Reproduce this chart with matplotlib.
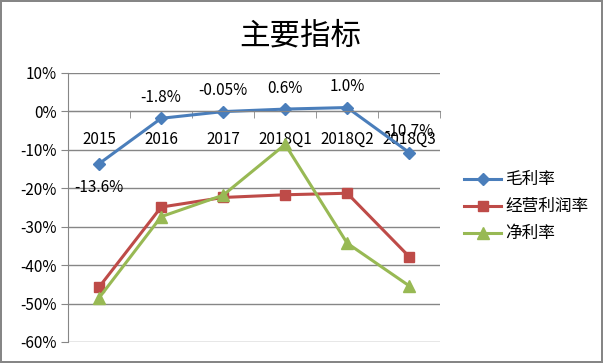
import matplotlib
matplotlib.use('Agg')
import matplotlib.pyplot as plt
from matplotlib.ticker import FuncFormatter, FixedLocator

plt.rcParams['font.family'] = ['Noto Sans CJK SC', 'DejaVu Sans']
plt.rcParams['axes.unicode_minus'] = False

categories = ['2015', '2016', '2017', '2018Q1', '2018Q2', '2018Q3']
gross_margin = [-13.6, -1.8, -0.05, 0.6, 1.0, -10.7]
operating_margin = [-45.7, -24.9, -22.4, -21.7, -21.3, -37.8]
net_margin = [-48.5, -27.4, -21.8, -8.6, -34.3, -45.4]
gross_labels = ['-13.6%', '-1.8%', '-0.05%', '0.6%', '1.0%', '-10.7%']
series_names = ['毛利率', '经营利润率', '净利率']

fig = plt.figure(figsize=(6.03, 3.63), dpi=100)
fig.patch.set_edgecolor('#868686')
fig.patch.set_linewidth(1.5)
ax = fig.add_axes([0.113, 0.058, 0.617, 0.741])

x = list(range(len(categories)))
ax.plot(x, gross_margin, color='#4A7EBB', lw=2.2, marker='D', ms=6.5, label=series_names[0])
ax.plot(x, operating_margin, color='#BE4B48', lw=2.2, marker='s', ms=7.5, label=series_names[1])
ax.plot(x, net_margin, color='#98B954', lw=2.2, marker='^', ms=8, label=series_names[2])

# data labels for gross margin
for i, (v, t) in enumerate(zip(gross_margin, gross_labels)):
    if i == 0:
        ax.annotate(t, (i, v), xytext=(0, -17), textcoords='offset points',
                    ha='center', va='center', fontsize=11)
    else:
        ax.annotate(t, (i, v), xytext=(0, 15), textcoords='offset points',
                    ha='center', va='center', fontsize=11)

ax.set_xlim(-0.5, len(categories) - 0.5)
ax.set_ylim(-60, 10)
ax.set_yticks(range(-60, 11, 10))
ax.yaxis.set_major_formatter(FuncFormatter(lambda v, p: f'{v:.0f}%'))
ax.set_xticks(x)
ax.set_xticklabels(categories)
ax.xaxis.set_minor_locator(FixedLocator([i + 0.5 for i in range(-1, len(categories))]))
ax.tick_params(axis='x', which='major', length=0, pad=14, labelsize=11)
ax.tick_params(axis='x', which='minor', length=5, color='#868686', direction='out')
ax.tick_params(axis='y', length=5, color='#868686', labelsize=11, pad=3)

ax.grid(axis='y', color='#868686', lw=1)
ax.set_axisbelow(True)
ax.spines['bottom'].set_position(('data', 0))
for s in ['top', 'right']:
    ax.spines[s].set_visible(False)
for s in ['left', 'bottom']:
    ax.spines[s].set_color('#868686')

fig.text(0.498, 0.9, '主要指标', ha='center', va='center', fontsize=22)

fig.legend(loc='center left', bbox_to_anchor=(0.745, 0.43), frameon=False,
           fontsize=12, handlelength=2.2, labelspacing=0.6, handletextpad=0.25)

fig.savefig('out.png', dpi=100)
